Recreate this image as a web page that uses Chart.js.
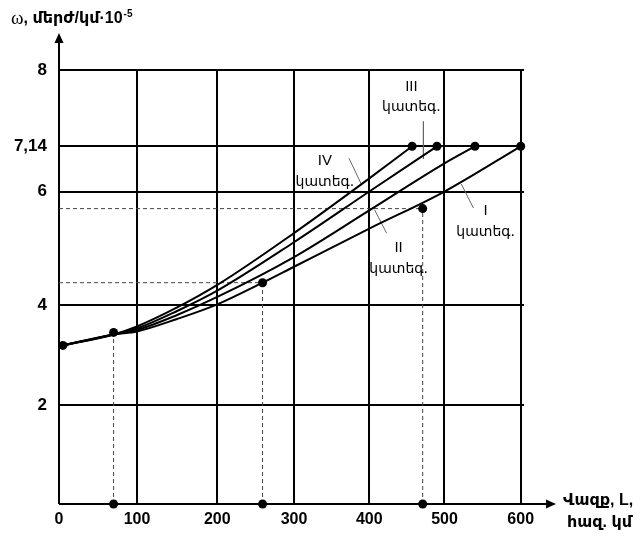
<!DOCTYPE html>
<html>
<head>
<meta charset="utf-8">
<script src="https://cdn.jsdelivr.net/npm/chart.js@4/dist/chart.umd.min.js"></script>
<style>
  html, body { margin: 0; background: #fff; }
  #wrap { width: 640px; height: 536px; }
</style>
</head>
<body>
<div id="wrap"><canvas id="chart" width="640" height="536"></canvas></div>
<script>
// Tick values
const xTicks = [0, 100, 200, 300, 400, 500, 600];
const yTicks = [2, 4, 6, 7.14, 8];

// Curves: run L (thousand km) -> failure rate ω
const runI   = [5, 70, 100, 150, 200, 259, 300, 400, 500, 600];
const rateI  = [3.2, 3.42, 3.48, 3.73, 4.02, 4.4, 4.68, 5.35, 6.0, 7.14];
const runII  = [5, 70, 100, 150, 200, 300, 400, 500, 540];
const rateII = [3.2, 3.42, 3.51, 3.81, 4.15, 4.85, 5.67, 6.71, 7.14];
const runIII  = [5, 70, 100, 150, 200, 300, 400, 490];
const rateIII = [3.2, 3.42, 3.54, 3.89, 4.26, 5.11, 6.0, 7.14];
const runIV  = [5, 70, 100, 150, 200, 300, 400, 457];
const rateIV = [3.2, 3.42, 3.58, 3.96, 4.36, 5.27, 6.33, 7.14];

// Marked points
const dotRun  = [5, 70, 259, 471, 457, 490, 540, 600];
const dotRate = [3.2, 3.46, 4.4, 5.7, 7.14, 7.14, 7.14, 7.14];
// dashed reading lines (drop to the L axis; the last two also go to the ω axis)
const dropRun  = [70, 259, 471];
const dropRate = [3.46, 4.4, 5.7];

// Category labels and their leader lines
const catNames = ['I', 'II', 'III', 'IV'];
const catLabelRun  = [554, 439, 456, 341];
const catLabelRate = [5.48, 4.83, 7.70, 6.52];
const leaderRun  = [[522, 538], [407, 423], [472, 472], [373, 390]];
const leaderRate = [[6.19, 5.71], [5.68, 5.27], [7.42, 6.82], [6.84, 6.16]];

// The drawing is not to scale: axis fractions for each gridline value
const BREAKS = {
  x: [[0, 0], [100, 0.1677], [200, 0.3404], [300, 0.5054], [400, 0.6673], [500, 0.829], [600, 0.9929], [605, 1]],
  y: [[0, 0], [2, 0.2274], [4, 0.4574], [6, 0.72], [7.14, 0.8242], [8, 1]]
};

class PiecewiseScale extends Chart.LinearScale {
  toDecimal(v) {
    const b = BREAKS[this.id];
    let i = 1;
    while (i < b.length - 1 && v > b[i][0]) i++;
    const [v0, f0] = b[i - 1], [v1, f1] = b[i];
    return f0 + (v - v0) * (f1 - f0) / (v1 - v0);
  }
  fromDecimal(f) {
    const b = BREAKS[this.id];
    let i = 1;
    while (i < b.length - 1 && f > b[i][1]) i++;
    const [v0, f0] = b[i - 1], [v1, f1] = b[i];
    return v0 + (f - f0) * (v1 - v0) / (f1 - f0);
  }
  getPixelForValue(v) {
    return v === null || v === undefined ? NaN : this.getPixelForDecimal(this.toDecimal(v));
  }
  getValueForPixel(p) {
    return this.fromDecimal(this.getDecimalForPixel(p));
  }
}
PiecewiseScale.id = 'piecewise';
PiecewiseScale.defaults = Chart.LinearScale.defaults;
Chart.register(PiecewiseScale);

const zip = (xs, ys) => xs.map((x, i) => ({ x, y: ys[i] }));
const SANS = '"Liberation Sans", "DejaVu Sans", sans-serif';

const curve = (run, rate) => ({
  type: 'line',
  data: zip(run, rate),
  borderColor: '#000',
  borderWidth: 2,
  pointRadius: 0,
  cubicInterpolationMode: 'monotone',
  fill: false,
  order: 3
});

const dashed = (pts) => ({
  type: 'line',
  data: pts,
  borderColor: '#444',
  borderWidth: 1,
  borderDash: [4, 3],
  pointRadius: 0,
  fill: false,
  clip: false,
  order: 4
});

const leader = (i) => ({
  type: 'line',
  data: zip(leaderRun[i], leaderRate[i]),
  borderColor: '#666',
  borderWidth: 1,
  pointRadius: 0,
  fill: false,
  order: 4
});

const datasets = [
  {
    type: 'scatter',
    data: zip(dotRun, dotRate).concat(dropRun.map(x => ({ x, y: 0 }))),
    pointRadius: 4.5,
    pointBackgroundColor: '#000',
    pointBorderWidth: 0,
    clip: false,
    order: 1
  },
  curve(runI, rateI),
  curve(runII, rateII),
  curve(runIII, rateIII),
  curve(runIV, rateIV)
];
dropRun.forEach((x, i) => {
  datasets.push(dashed([{ x, y: 0 }, { x, y: dropRate[i] }]));
  if (i > 0) datasets.push(dashed([{ x: 0, y: dropRate[i] }, { x, y: dropRate[i] }]));
});
catNames.forEach((_, i) => datasets.push(leader(i)));

// axes with arrows, titles, category labels
const decor = {
  id: 'decor',
  beforeDatasetsDraw(chart) {
    const { ctx, chartArea: a } = chart;
    ctx.save();
    ctx.strokeStyle = '#000';
    ctx.fillStyle = '#000';
    ctx.lineWidth = 2;
    ctx.beginPath();
    ctx.moveTo(a.left, a.bottom);
    ctx.lineTo(a.right + 26, a.bottom);
    ctx.moveTo(a.left, a.bottom);
    ctx.lineTo(a.left, a.top - 30);
    ctx.stroke();
    ctx.beginPath();
    ctx.moveTo(a.right + 32, a.bottom);
    ctx.lineTo(a.right + 22, a.bottom - 4.5);
    ctx.lineTo(a.right + 22, a.bottom + 4.5);
    ctx.closePath();
    ctx.moveTo(a.left, a.top - 37);
    ctx.lineTo(a.left - 4.5, a.top - 27);
    ctx.lineTo(a.left + 4.5, a.top - 27);
    ctx.closePath();
    ctx.fill();
    ctx.restore();
  },
  afterDraw(chart) {
    const { ctx, scales } = chart;
    ctx.save();
    ctx.fillStyle = '#000';
    ctx.textBaseline = 'middle';
    ctx.textAlign = 'left';

    // ω axis title
    let x = 11;
    const y = 19;
    ctx.font = '19px "Liberation Serif", serif';
    ctx.fillText('ω', x, y);
    x += ctx.measureText('ω').width;
    ctx.font = 'bold 16px ' + SANS;
    ctx.fillText(', մերժ/կմ·10', x, y);
    x += ctx.measureText(', մերժ/կմ·10').width;
    ctx.font = 'bold 10px ' + SANS;
    ctx.fillText('-5', x + 1, y - 5);

    // L axis title
    ctx.font = 'bold 16px ' + SANS;
    ctx.fillText('Վազք, L,', 563, 501);
    ctx.fillText('հազ. կմ', 567, 523);

    // category labels
    ctx.textAlign = 'center';
    catNames.forEach((name, i) => {
      const px = scales.x.getPixelForValue(catLabelRun[i]);
      const py = scales.y.getPixelForValue(catLabelRate[i]);
      ctx.font = '15px ' + SANS;
      ctx.fillText(name, px, py - 10);
      ctx.font = '14px "DejaVu Sans", sans-serif';
      ctx.fillText('կատեգ.', px, py + 11);
    });
    ctx.restore();
  }
};

new Chart(document.getElementById('chart'), {
  data: { datasets },
  options: {
    responsive: false,
    animation: false,
    layout: { padding: { left: 0, top: 70, right: 116, bottom: 0 } },
    plugins: { legend: { display: false }, tooltip: { enabled: false } },
    scales: {
      x: {
        type: 'piecewise',
        min: 0,
        max: 605,
        afterBuildTicks: (s) => { s.ticks = xTicks.map(v => ({ value: v })); },
        afterFit: (s) => { s.height = 32; },
        border: { display: false },
        grid: { color: '#000', lineWidth: 2, drawTicks: false },
        ticks: {
          padding: 6,
          color: '#000',
          autoSkip: false,
          maxRotation: 0,
          font: { family: SANS, size: 16, weight: 'bold' },
          callback: (v) => String(v)
        }
      },
      y: {
        type: 'piecewise',
        min: 0,
        max: 8,
        afterBuildTicks: (s) => { s.ticks = yTicks.map(v => ({ value: v })); },
        afterFit: (s) => { s.width = 59; },
        border: { display: false },
        grid: { color: '#000', lineWidth: 2, drawTicks: false },
        ticks: {
          padding: 12,
          color: '#000',
          autoSkip: false,
          font: { family: SANS, size: 17, weight: 'bold' },
          callback: (v) => String(v).replace('.', ',')
        }
      }
    }
  },
  plugins: [decor]
});
</script>
</body>
</html>
